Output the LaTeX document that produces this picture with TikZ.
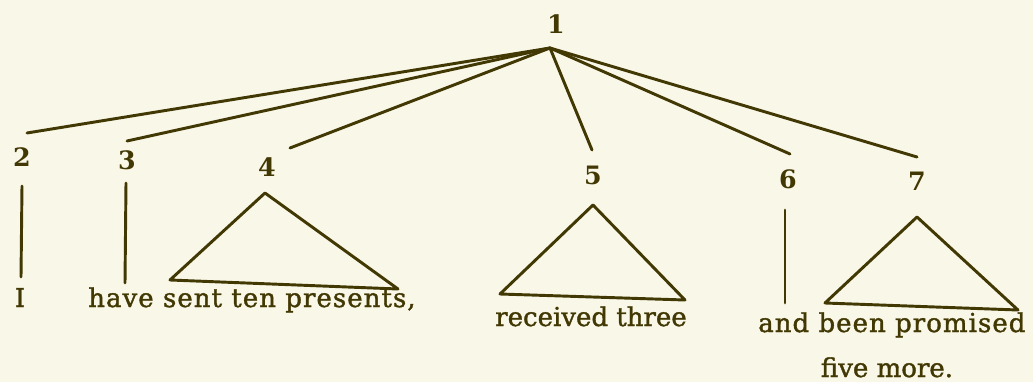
\documentclass[tikz,border=0pt]{standalone}
\usepackage{fontspec}
\setmainfont{DejaVu Serif}
\newfontfamily\wordfont[FakeBold=1.4]{DejaVu Serif}
\newfontfamily\widewordfont[FakeBold=1.4,LetterSpace=4]{DejaVu Serif}
\definecolor{paper}{RGB}{249,248,232}
\definecolor{ink}{RGB}{66,56,4}
\begin{document}
\begin{tikzpicture}[x=0.75pt,y=-0.75pt,
  branch/.style={draw=ink,line width=2.2pt,line cap=round,line join=round},
  num/.style={inner sep=0pt,anchor=base,text=ink,font=\fontsize{19}{22}\selectfont\bfseries},
  word/.style={inner sep=0pt,text=ink,font=\wordfont\fontsize{19.5}{23}\selectfont},
  wideword/.style={inner sep=0pt,text=ink,font=\widewordfont\fontsize{19.5}{23}\selectfont}]
\useasboundingbox (0,0) rectangle (1033,382);
\fill[paper] (0,0) rectangle (1033,382);
% numbers
\node[num] (n1) at (556,33) {1};
\node[num] (n2) at (22,166) {2};
\node[num] (n3) at (127,169) {3};
\node[num] (n4) at (267,176) {4};
\node[num] (n5) at (593,184) {5};
\node[num] (n6) at (788,188) {6};
\node[num] (n7) at (917,190) {7};
% apex and branch ends
\coordinate (top) at (550,48);
\coordinate (e2) at (27,133);
\coordinate (e3) at (127,141);
\coordinate (e4) at (290,148);
\coordinate (e5) at (592,150);
\coordinate (e6) at (790,154);
\coordinate (e7) at (917,157);
\draw[branch] (top) -- (e2);
\draw[branch] (top) -- (e3);
\draw[branch] (top) -- (e4);
\draw[branch] (top) -- (e5);
\draw[branch] (top) -- (e6);
\draw[branch] (top) -- (e7);
% vertical stems
\coordinate (v2a) at (22,186); \coordinate (v2b) at (21,277);
\coordinate (v3a) at (126,183); \coordinate (v3b) at (125,283);
\coordinate (v6a) at (785,210); \coordinate (v6b) at (785,303);
\draw[branch] (v2a) -- (v2b);
\draw[branch] (v3a) -- (v3b);
\draw[branch] (v6a) -- (v6b);
% triangles
\coordinate (t4a) at (265,193); \coordinate (t4l) at (170,280); \coordinate (t4r) at (398,289);
\coordinate (t5a) at (593,205); \coordinate (t5l) at (500,294); \coordinate (t5r) at (685,300);
\coordinate (t7a) at (917,217); \coordinate (t7l) at (825,303); \coordinate (t7r) at (1018,310);
\draw[branch] (t4a) -- (t4l) -- (t4r) -- cycle;
\draw[branch] (t5a) -- (t5l) -- (t5r) -- cycle;
\draw[branch] (t7a) -- (t7l) -- (t7r) -- cycle;
% words
\node[word,anchor=base] (w2) at (20,307) {I};
\node[wideword,anchor=base west] (w3) at (88,307) {have sent ten presents,};
\node[word,anchor=base west] (w5) at (495,326) {received three};
\node[wideword,anchor=base west] (w6) at (758,332) {and been promised};
\node[word,anchor=base] (w7) at (887,377) {five more.};
\end{tikzpicture}
\end{document}
